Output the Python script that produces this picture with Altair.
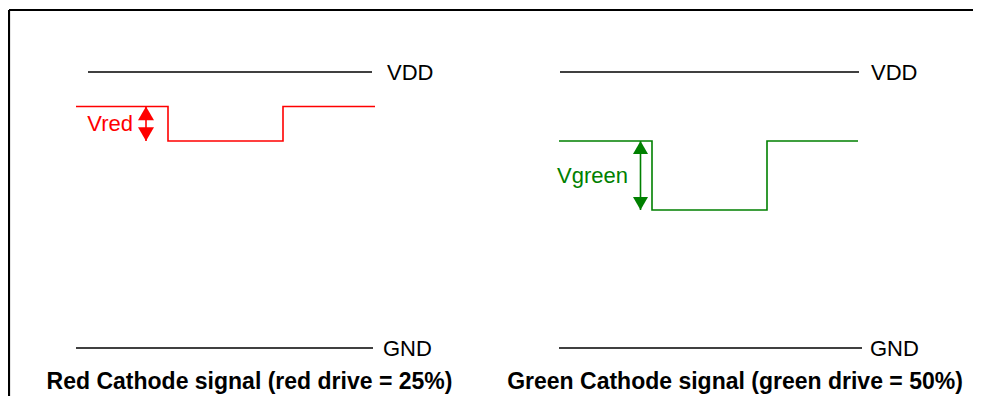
import altair as alt
import pandas as pd

# ---- data (time in arbitrary units, level as fraction of VDD) ----
red_t = [76, 168, 168, 283, 283, 375]
red_v = [0.875, 0.875, 0.75, 0.75, 0.875, 0.875]
green_t = [559, 652, 652, 767, 767, 858]
green_v = [0.75, 0.75, 0.5, 0.5, 0.75, 0.75]

rail_names = ["VDD", "GND", "VDD", "GND"]
rail_levels = [1.0, 0.0, 1.0, 0.0]
rail_start = [88, 76, 560, 559]
rail_end = [372, 373, 859, 862]
rail_label_t = [387, 383, 871, 870]

titles = ["Red Cathode signal (red drive = 25%)", "Green Cathode signal (green drive = 50%)"]
title_t = [249.5, 735]
title_v = [-0.149, -0.149]

drive_labels = ["Vred", "Vgreen"]
drive_label_t = [133, 628]
arrow_t = [146, 640.5]
arrow_top = [0.875, 0.75]
arrow_bottom = [0.75, 0.5]
colors = ["#ff0000", "#008000"]

frame_t = [9, 973]
frame_v = [-0.1739, 1.2246]

W, H = 965, 388
FONT = "Liberation Sans, Arial, Helvetica, sans-serif"

xs = alt.Scale(domain=[8, 973], nice=False, zero=False)
ys = alt.Scale(domain=[-0.1739, 1.2319], nice=False, zero=False)
X = lambda f: alt.X(f, type="quantitative", scale=xs, axis=None)
Y = lambda f: alt.Y(f, type="quantitative", scale=ys, axis=None)

layers = []

# frame (top and left border)
frame_df = pd.DataFrame({
    "t": [frame_t[0], frame_t[0]],
    "t2": [frame_t[1], frame_t[0]],
    "v": [frame_v[1], frame_v[0]],
    "v2": [frame_v[1], frame_v[1]],
})
layers.append(alt.Chart(frame_df).mark_rule(color="black", strokeWidth=2.2).encode(
    x=X("t"), x2="t2", y=Y("v"), y2="v2"))

# rails
rails_df = pd.DataFrame({"name": rail_names, "v": rail_levels, "t": rail_start,
                         "t2": rail_end, "lt": rail_label_t})
layers.append(alt.Chart(rails_df).mark_rule(color="black", strokeWidth=1.5).encode(
    x=X("t"), x2="t2", y=Y("v")))
layers.append(alt.Chart(rails_df).mark_text(
    align="left", baseline="middle", dy=1, fontSize=22, font=FONT, color="black").encode(
    x=X("lt"), y=Y("v"), text="name:N"))

# signals
sig_specs = [(red_t, red_v, colors[0]), (green_t, green_v, colors[1])]
for i, (tt, vv, c) in enumerate(sig_specs):
    df = pd.DataFrame({"t": tt, "v": vv, "o": list(range(len(tt)))})
    layers.append(alt.Chart(df).mark_line(color=c, strokeWidth=1.6, strokeJoin="miter").encode(
        x=X("t"), y=Y("v"), order="o:Q"))

# drive arrows + labels
head_w = [16, 15]
for i in range(2):
    c = colors[i]
    adf = pd.DataFrame({"t": [arrow_t[i]], "v": [arrow_top[i]], "v2": [arrow_bottom[i]],
                        "lab": [drive_labels[i]], "lt": [drive_label_t[i]],
                        "mid": [(arrow_top[i] + arrow_bottom[i]) / 2]})
    layers.append(alt.Chart(adf).mark_rule(color=c, strokeWidth=1.6).encode(
        x=X("t"), y=Y("v"), y2="v2"))
    size = head_w[i] ** 2
    h = 0.866 * head_w[i] / 2
    layers.append(alt.Chart(adf).mark_point(shape="triangle-up", filled=True, size=size,
                                            color=c, opacity=1, strokeWidth=0, yOffset=h).encode(
        x=X("t"), y=Y("v")))
    layers.append(alt.Chart(adf).mark_point(shape="triangle-down", filled=True, size=size,
                                            color=c, opacity=1, strokeWidth=0, yOffset=-h).encode(
        x=X("t"), y=Y("v2")))
    layers.append(alt.Chart(adf).mark_text(
        align="right", baseline="middle", dy=0, fontSize=22, font=FONT, color=c).encode(
        x=X("lt"), y=Y("mid"), text="lab:N"))

# titles
tdf = pd.DataFrame({"title": titles, "t": title_t, "v": title_v})
layers.append(alt.Chart(tdf).mark_text(
    align="center", baseline="alphabetic", fontSize=23, fontWeight="bold", font=FONT,
    color="black").encode(x=X("t"), y=Y("v"), text="title:N"))

chart = alt.layer(*layers).properties(
    width=W, height=H, padding=0, autosize=alt.AutoSizeParams(type="none"),
    background="white"
).configure_view(stroke=None)

chart.save("out.html", embed_options={"renderer": "svg", "actions": False})
